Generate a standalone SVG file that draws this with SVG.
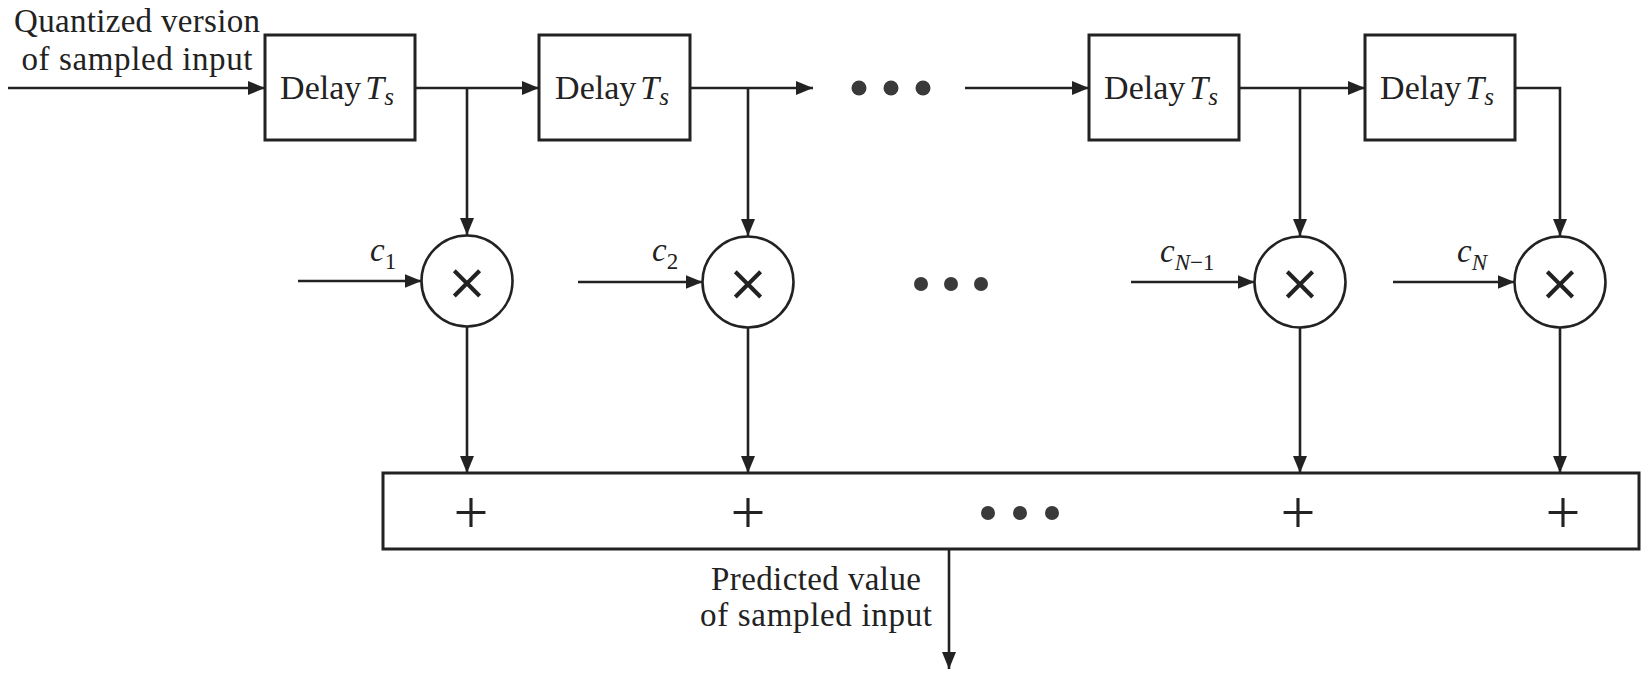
<svg xmlns="http://www.w3.org/2000/svg" width="1642" height="673" viewBox="0 0 1642 673">
<style>
.box{fill:#fff;stroke:#222;stroke-width:3}
.circ{fill:#fff;stroke:#222;stroke-width:2.6}
.ln{fill:none;stroke:#222;stroke-width:2.6}
.t{font-family:"Liberation Serif","Times New Roman",serif;fill:#222}
.lbl{font-size:33px}
.dl{font-size:34px}
.c{font-family:"Liberation Serif","Times New Roman",serif;font-size:33px;font-style:italic;fill:#222}
.dot{fill:#3a3a3a}
.plus{font-family:"Liberation Serif",serif;font-size:62px;fill:#222}
.mul{font-family:"DejaVu Sans",sans-serif;font-size:50px;fill:#222}
</style>
<defs>
<marker id="arr" markerUnits="userSpaceOnUse" markerWidth="17" markerHeight="14" refX="17" refY="7" orient="auto">
<path d="M0,0 L17,7 L0,14 z" fill="#222"/>
</marker>
</defs>

<g id="input-label">
<text class="t lbl" x="137" y="32" text-anchor="middle" textLength="246" lengthAdjust="spacing">Quantized version</text>
<text class="t lbl" x="137" y="70" text-anchor="middle" textLength="231" lengthAdjust="spacing">of sampled input</text>
</g>

<g id="connectors">
<line class="ln" x1="8" y1="88" x2="265" y2="88" marker-end="url(#arr)"/>
<line class="ln" x1="415" y1="88" x2="539" y2="88" marker-end="url(#arr)"/>
<line class="ln" x1="467" y1="88" x2="467" y2="235" marker-end="url(#arr)"/>
<line class="ln" x1="690" y1="88" x2="813" y2="88" marker-end="url(#arr)"/>
<line class="ln" x1="748" y1="88" x2="748" y2="236" marker-end="url(#arr)"/>
<line class="ln" x1="965" y1="88" x2="1089" y2="88" marker-end="url(#arr)"/>
<line class="ln" x1="1239" y1="88" x2="1365" y2="88" marker-end="url(#arr)"/>
<line class="ln" x1="1300" y1="88" x2="1300" y2="236" marker-end="url(#arr)"/>
<polyline class="ln" points="1515,88 1560,88 1560,236" marker-end="url(#arr)"/>

<line class="ln" x1="298" y1="281" x2="421.5" y2="281" marker-end="url(#arr)"/>
<line class="ln" x1="578" y1="282" x2="702.5" y2="282" marker-end="url(#arr)"/>
<line class="ln" x1="1131" y1="282" x2="1254.5" y2="282" marker-end="url(#arr)"/>
<line class="ln" x1="1393" y1="282" x2="1514.5" y2="282" marker-end="url(#arr)"/>

<line class="ln" x1="467" y1="327" x2="467" y2="473" marker-end="url(#arr)"/>
<line class="ln" x1="748" y1="328" x2="748" y2="473" marker-end="url(#arr)"/>
<line class="ln" x1="1300" y1="328" x2="1300" y2="473" marker-end="url(#arr)"/>
<line class="ln" x1="1560" y1="328" x2="1560" y2="473" marker-end="url(#arr)"/>

<line class="ln" x1="949" y1="549" x2="949" y2="669" marker-end="url(#arr)"/>
</g>

<g id="delay1">
<rect class="box" x="265" y="35" width="150" height="105"/>
<text class="t dl" x="337" y="99" text-anchor="middle">Delay<tspan font-style="italic" dx="4">T</tspan><tspan font-style="italic" font-size="25" dy="6">s</tspan></text>
</g>
<g id="delay2">
<rect class="box" x="539" y="35" width="151" height="105"/>
<text class="t dl" x="612" y="99" text-anchor="middle">Delay<tspan font-style="italic" dx="4">T</tspan><tspan font-style="italic" font-size="25" dy="6">s</tspan></text>
</g>
<g id="dots-top">
<circle class="dot" cx="859" cy="88" r="7.5"/>
<circle class="dot" cx="891" cy="88" r="7.5"/>
<circle class="dot" cx="923" cy="88" r="7.5"/>
</g>
<g id="delay3">
<rect class="box" x="1089" y="35" width="150" height="105"/>
<text class="t dl" x="1161" y="99" text-anchor="middle">Delay<tspan font-style="italic" dx="4">T</tspan><tspan font-style="italic" font-size="25" dy="6">s</tspan></text>
</g>
<g id="delay4">
<rect class="box" x="1365" y="35" width="150" height="105"/>
<text class="t dl" x="1437" y="99" text-anchor="middle">Delay<tspan font-style="italic" dx="4">T</tspan><tspan font-style="italic" font-size="25" dy="6">s</tspan></text>
</g>

<g id="mult1">
<circle class="circ" cx="467" cy="281" r="45.5"/>
<text class="mul" x="467" y="299" text-anchor="middle">×</text>
<text class="c" x="370" y="261">c<tspan font-style="normal" font-size="23" dy="8">1</tspan></text>
</g>
<g id="mult2">
<circle class="circ" cx="748" cy="282" r="45.5"/>
<text class="mul" x="748" y="300" text-anchor="middle">×</text>
<text class="c" x="652" y="261">c<tspan font-style="normal" font-size="23" dy="8">2</tspan></text>
</g>
<g id="dots-mid">
<circle class="dot" cx="921" cy="284" r="7"/>
<circle class="dot" cx="951" cy="284" r="7"/>
<circle class="dot" cx="981" cy="284" r="7"/>
</g>
<g id="mult3">
<circle class="circ" cx="1300" cy="282" r="45.5"/>
<text class="mul" x="1300" y="300" text-anchor="middle">×</text>
<text class="c" x="1160" y="262">c<tspan font-size="23" dy="8">N</tspan><tspan font-style="normal" font-size="23">−1</tspan></text>
</g>
<g id="mult4">
<circle class="circ" cx="1560" cy="282" r="45.5"/>
<text class="mul" x="1560" y="300" text-anchor="middle">×</text>
<text class="c" x="1457" y="262">c<tspan font-size="23" dy="8">N</tspan></text>
</g>

<g id="sum">
<rect class="box" x="383" y="473" width="1256" height="76"/>
<text class="plus" x="471" y="533" text-anchor="middle">+</text>
<text class="plus" x="748" y="533" text-anchor="middle">+</text>
<circle class="dot" cx="988" cy="513" r="7"/>
<circle class="dot" cx="1020" cy="513" r="7"/>
<circle class="dot" cx="1052" cy="513" r="7"/>
<text class="plus" x="1298" y="533" text-anchor="middle">+</text>
<text class="plus" x="1563" y="533" text-anchor="middle">+</text>
</g>

<g id="output-label">
<text class="t lbl" x="816" y="590" text-anchor="middle" textLength="210" lengthAdjust="spacing">Predicted value</text>
<text class="t lbl" x="816" y="626" text-anchor="middle" textLength="232" lengthAdjust="spacing">of sampled input</text>
</g>
</svg>
